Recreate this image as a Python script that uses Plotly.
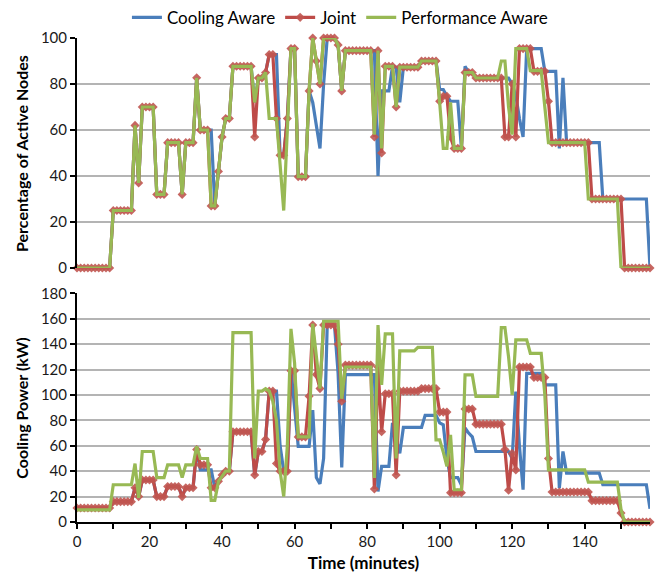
import plotly.graph_objects as go

minutes = list(range(159))

# ---- Percentage of active nodes (top panel) ----
cooling_nodes = [
    0, 0, 0, 0, 0, 0, 0, 0, 0, 0,
    25, 25, 25, 25, 25, 25, 62, 37, 70, 70,
    70, 70, 32, 32, 32, 54.5, 54.5, 54.5, 54.5, 32,
    54.5, 54.5, 54.5, 82.7, 60, 60, 60, 60, 27, 42,
    57, 65, 65, 87.7, 87.7, 87.7, 87.7, 87.7, 87.7, 72,
    82.6, 82.6, 85, 92.8, 92.8, 92.8, 49, 49, 65, 95.4,
    95.4, 39.7, 39.7, 39.7, 77, 72, 62, 52, 80, 100,
    100, 100, 97, 77, 94.5, 94.5, 94.5, 94.5, 94.5, 94.5,
    94.5, 94.5, 94.5, 40, 77, 77, 77, 87.7, 87.3, 72,
    87.3, 87.3, 87.3, 87.3, 87.3, 90, 90, 90, 90, 90,
    77.6, 77.6, 74.7, 72.5, 72.5, 72.5, 52, 87.7, 85, 85,
    82.6, 82.6, 82.6, 82.6, 82.6, 82.6, 82.6, 82.6, 82.6, 82.6,
    80, 75, 65, 57, 95.4, 95.4, 95.4, 95.4, 95.4, 85.5,
    85.5, 85.5, 85.5, 52, 82.7, 54.5, 54.5, 54.5, 54.5, 54.5,
    54.5, 54.5, 54.5, 54.5, 54.5, 30, 30, 30, 30, 30,
    30, 30, 30, 30, 30, 30, 30, 30, 0,
]
joint_nodes = [
    0, 0, 0, 0, 0, 0, 0, 0, 0, 0,
    25, 25, 25, 25, 25, 25, 62, 37, 70, 70,
    70, 70, 32, 32, 32, 54.5, 54.5, 54.5, 54.5, 32,
    54.5, 54.5, 54.5, 82.7, 60, 60, 60, 27, 27, 42,
    57, 65, 65, 87.7, 87.7, 87.7, 87.7, 87.7, 87.7, 57,
    82.6, 82.6, 85, 92.8, 92.8, 65, 49, 49, 65, 95.4,
    95.4, 39.7, 39.7, 39.7, 77, 100, 90, 80, 100, 100,
    100, 100, 97, 77, 94.5, 94.5, 94.5, 94.5, 94.5, 94.5,
    94.5, 94.5, 57, 94.5, 50, 87.7, 87.7, 87.7, 70, 87.3,
    87.3, 87.3, 87.3, 87.3, 87.3, 90, 90, 90, 90, 90,
    72.5, 74.7, 74.7, 57, 52, 52, 52, 85, 85, 85,
    82.6, 82.6, 82.6, 82.6, 82.6, 82.6, 82.6, 82.6, 57, 57,
    80, 57, 95.4, 95.4, 95.4, 95.4, 85.5, 85.5, 85.5, 85.5,
    72.5, 54.5, 54.5, 54.5, 54.5, 54.5, 54.5, 54.5, 54.5, 54.5,
    54.5, 54.5, 30, 30, 30, 30, 30, 30, 30, 30,
    30, 0, 0, 0, 0, 0, 0, 0, 0,
]
performance_nodes = [
    0, 0, 0, 0, 0, 0, 0, 0, 0, 0,
    25, 25, 25, 25, 25, 25, 62, 37, 70, 70,
    70, 70, 32, 32, 32, 54.5, 54.5, 54.5, 54.5, 32,
    54.5, 54.5, 54.5, 82.7, 60, 60, 60, 27, 27, 42,
    57, 65, 65, 87.7, 87.7, 87.7, 87.7, 87.7, 87.7, 72,
    82.6, 82.6, 85, 65, 65, 65, 45, 25, 60, 95.4,
    95.4, 39.7, 39.7, 39.7, 77, 100, 90, 80, 100, 100,
    100, 100, 97, 77, 94.5, 94.5, 94.5, 94.5, 94.5, 94.5,
    94.5, 94.5, 58, 94.5, 52, 87.7, 87.7, 87.7, 70, 87.3,
    87.3, 87.3, 87.3, 87.3, 87.3, 90, 90, 90, 90, 90,
    72, 52, 52, 72, 52, 52, 52, 85, 85, 85,
    82.6, 82.6, 82.6, 82.6, 82.6, 82.6, 82.6, 90, 90, 70,
    58, 95.4, 95.4, 95.4, 95.4, 85.8, 85.8, 85.8, 85.8, 70,
    54.5, 54.5, 54.5, 54.5, 54.5, 54.5, 54.5, 54.5, 54.5, 54.5,
    54.5, 30, 30, 30, 30, 30, 30, 30, 30, 30,
    0, 0, 0, 0, 0, 0, 0, 0, 0,
]

# ---- Cooling power in kW (bottom panel) ----
cooling_power = [
    11, 11, 11, 11, 11, 11, 11, 11, 11, 11,
    16, 16, 16, 16, 16, 16, 27, 20, 33, 33,
    33, 33, 20, 20, 20, 28, 28, 28, 28, 20,
    27, 27, 27, 57, 41, 41, 41, 41, 27, 32,
    37, 40, 40, 71, 71, 71, 71, 71, 71, 37,
    55.5, 55.5, 65, 103, 103, 103, 60, 40, 40, 120,
    90, 59.5, 59.5, 59.5, 59.5, 88, 35, 30, 50, 155,
    155, 155, 117, 43, 116, 116, 116, 116, 116, 116,
    116, 116, 116, 24, 43.8, 43.8, 43.8, 78, 66, 54,
    74.4, 74.4, 74.4, 74.4, 74.4, 74.4, 84, 84, 84, 84,
    78, 76.5, 50, 35, 35, 35, 29, 74, 70, 67,
    55.5, 55.5, 55.5, 55.5, 55.5, 55.5, 55.5, 55.5, 55.5, 55.5,
    50, 102.7, 60, 25.4, 117, 117, 117, 117, 117, 108,
    108, 108, 108, 26.7, 55.5, 38.5, 38.5, 38.5, 38.5, 38.5,
    38.5, 38.5, 38.5, 38.5, 38.5, 29.3, 29.3, 29.3, 29.3, 29.3,
    29.3, 29.3, 29.3, 29.3, 29.3, 29.3, 29.3, 29.3, 10.5,
]
joint_power = [
    11, 11, 11, 11, 11, 11, 11, 11, 11, 11,
    16, 16, 16, 16, 16, 16, 27, 20, 33, 33,
    33, 33, 20, 20, 20, 28, 28, 28, 28, 20,
    27, 27, 27, 57, 45, 45, 45, 27, 27, 32,
    37, 40, 40, 71, 71, 71, 71, 71, 71, 37,
    55.5, 55.5, 65, 103, 103, 46, 40, 40, 40, 119,
    119, 67, 67, 67, 99, 155, 116, 105, 155, 155,
    155, 155, 140, 95, 123.5, 123.5, 123.5, 123.5, 123.5, 123.5,
    123.5, 123.5, 26, 122, 71, 101, 101, 101, 37, 103,
    103, 103, 103, 103, 103, 105, 105, 105, 105, 105,
    86.5, 86.5, 86.5, 23, 23, 23, 23, 89, 89, 89,
    77, 77, 77, 77, 77, 77, 77, 77, 57, 25,
    54, 41, 122, 122, 122, 122, 113.7, 113.7, 113.7, 113.7,
    50, 23.6, 23.6, 23.6, 23.6, 23.6, 23.6, 23.6, 23.6, 23.6,
    23.6, 23.6, 16.8, 16.8, 16.8, 16.8, 16.8, 16.8, 16.8, 16.8,
    7, 0, 0, 0, 0, 0, 0, 0, 0,
]
performance_power = [
    9.5, 9.5, 9.5, 9.5, 9.5, 9.5, 9.5, 9.5, 9.5, 9.5,
    29.3, 29.3, 29.3, 29.3, 29.3, 29.3, 46, 19, 55.5, 55.5,
    55.5, 55.5, 35, 35, 35, 45, 45, 45, 45, 35,
    45, 45, 45, 59.5, 50, 50, 50, 17, 17, 32,
    36, 40, 40, 149, 149, 149, 149, 149, 149, 50,
    103, 103, 105, 103, 95, 80, 40, 20, 60, 152,
    125, 67, 67, 67, 67, 156, 130, 105, 158, 158,
    158, 158, 158, 97, 122, 122, 122, 122, 122, 122,
    122, 122, 34.6, 155, 108, 148, 148, 148, 50, 134.7,
    134.7, 134.7, 134.7, 134.7, 137.5, 137.5, 137.5, 137.5, 137.5, 64.7,
    64.7, 55, 43.8, 68.6, 25.4, 25.4, 25.4, 115.8, 115.8, 115.8,
    98.8, 98.8, 98.8, 98.8, 98.8, 98.8, 98.8, 153, 153, 130,
    100, 143.3, 143.3, 143.3, 143.3, 132.8, 132.8, 132.8, 132.8, 100,
    41, 41, 41, 41, 41, 41, 41, 41, 41, 41,
    41, 31.4, 31.4, 31.4, 31.4, 31.4, 31.4, 31.4, 31.4, 31.4,
    10, 0, 0, 0, 0, 0, 0, 0, 0,
]

series_names = ["Cooling Aware", "Joint", "Performance Aware"]
x_tick_values = [0, 20, 40, 60, 80, 100, 120, 140]
top_ticks = [0, 20, 40, 60, 80, 100]
bottom_ticks = [0, 20, 40, 60, 80, 100, 120, 140, 160, 180]

BLUE = "#4A7EBB"
RED = "#BE4B48"
GREEN = "#98B954"
FONT = "Lato"

fig = go.Figure()

def add_panel(yvals_list, xa, ya, show_legend):
    cool, joint, perf = yvals_list
    fig.add_trace(go.Scatter(
        x=minutes, y=cool, name=series_names[0], mode="lines",
        line=dict(color=BLUE, width=3.2), xaxis=xa, yaxis=ya,
        showlegend=show_legend, legendgroup="c", cliponaxis=False))
    fig.add_trace(go.Scatter(
        x=minutes, y=joint, name=series_names[1], mode="lines+markers",
        line=dict(color=RED, width=3.2),
        marker=dict(symbol="diamond", size=7, color="rgba(192,85,80,0.9)"),
        xaxis=xa, yaxis=ya, showlegend=show_legend, legendgroup="j",
        cliponaxis=False))
    fig.add_trace(go.Scatter(
        x=minutes, y=perf, name=series_names[2], mode="lines",
        line=dict(color=GREEN, width=3.2), xaxis=xa, yaxis=ya,
        showlegend=show_legend, legendgroup="p", cliponaxis=False))

add_panel([cooling_nodes, joint_nodes, performance_nodes], "x", "y", True)
add_panel([cooling_power, joint_power, performance_power], "x2", "y2", False)

grid = "#B4B4B4"
tickfont = dict(family=FONT, size=15, color="#1a1a1a")

# page body has an 8px default margin, so the figure is 8px smaller
fig.update_layout(
    width=656, height=576,
    margin=dict(l=69, r=14, t=30, b=62, autoexpand=False),
    paper_bgcolor="white", plot_bgcolor="white",
    font=dict(family=FONT, color="#000"),
    showlegend=True,
    legend=dict(orientation="h", xref="container", yref="container",
                x=0.506, xanchor="center", y=0.983, yanchor="middle",
                font=dict(family=FONT, size=17),
                itemwidth=30, tracegroupgap=0, bgcolor="rgba(0,0,0,0)"),
    xaxis=dict(domain=[0, 1], anchor="y", range=[0, 158],
               showticklabels=False, showgrid=False, zeroline=False,
               showline=False, ticks="", automargin=False),
    yaxis=dict(domain=[0.5248, 1], anchor="x", range=[0, 100],
               tickvals=top_ticks, showgrid=True, gridcolor=grid,
               gridwidth=1.5, zeroline=False, showline=True,
               linecolor="black", linewidth=2, ticks="outside",
               ticklen=5, tickcolor="black", tickwidth=1.5,
               tickfont=tickfont, automargin=False),
    xaxis2=dict(domain=[0, 1], anchor="y2", range=[0, 158],
                tickvals=x_tick_values, showgrid=False, zeroline=False,
                showline=True, linecolor="black", linewidth=2,
                ticks="outside", ticklen=5, tickcolor="black",
                tickwidth=1.5, tickfont=tickfont, automargin=False,
                minor=dict(dtick=10, tick0=0, ticks="outside", ticklen=5,
                           tickcolor="black", tickwidth=1.5, showgrid=False),
                title=dict(text="<b>Time (minutes)</b>",
                           font=dict(family=FONT, size=17), standoff=8)),
    yaxis2=dict(domain=[0, 0.4725], anchor="x2", range=[0, 180],
                tickvals=bottom_ticks, showgrid=True, gridcolor=grid,
                gridwidth=1.5, zeroline=False, showline=True,
                linecolor="black", linewidth=2, ticks="outside",
                ticklen=5, tickcolor="black", tickwidth=1.5,
                tickfont=tickfont, automargin=False),
    annotations=[
        dict(text="<b>Percentage of Active Nodes</b>", textangle=-90,
             xref="paper", yref="paper", x=-0.096, y=0.7624,
             xanchor="center", yanchor="middle", showarrow=False,
             font=dict(family=FONT, size=16, color="#000")),
        dict(text="<b>Cooling Power (kW)</b>", textangle=-90,
             xref="paper", yref="paper", x=-0.096, y=0.2362,
             xanchor="center", yanchor="middle", showarrow=False,
             font=dict(family=FONT, size=16, color="#000")),
    ],
)

fig.write_html("out.html")
